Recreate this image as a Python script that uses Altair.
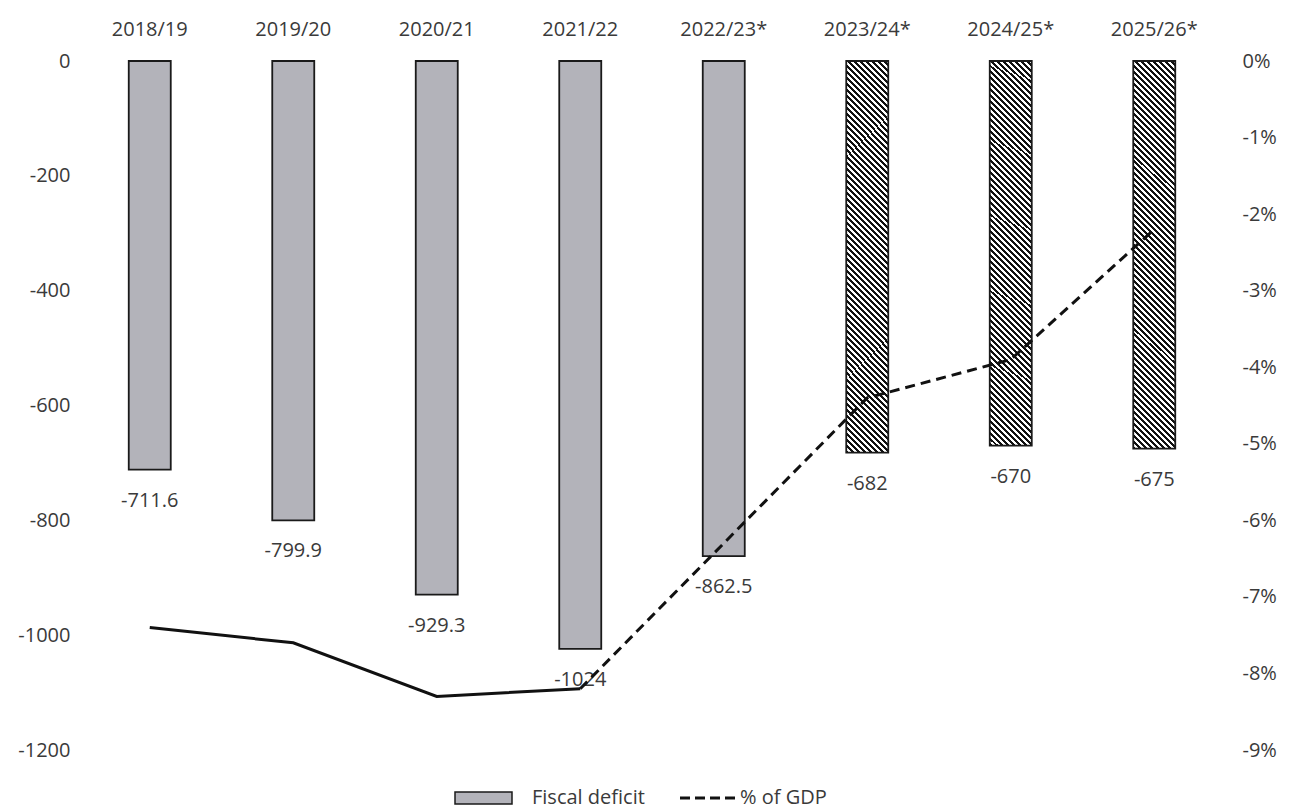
import altair as alt
import pandas as pd

# Fiscal years (asterisk marks estimates / projections)
years = ["2018/19", "2019/20", "2020/21", "2021/22", "2022/23*", "2023/24*", "2024/25*", "2025/26*"]
# Medium-term projection years, drawn with hatched bars
medium_term = ["2023/24*", "2024/25*", "2025/26*"]
# Fiscal deficit (bars, left axis)
deficit = [-711.6, -799.9, -929.3, -1024, -862.5, -682, -670, -675]
# Deficit as share of GDP (line, right axis)
gdp_pct = [-0.074, -0.076, -0.083, -0.082, -0.063, -0.044, -0.039, -0.022]

FONT = "Open Sans"
TXT = "#3a3a3a"
GREY = "#b3b3ba"

W, H = 1148, 689
BAR_W = 42

df = pd.DataFrame({"year": years, "deficit": deficit, "pct": gdp_pct})
df["estimate"] = df["year"].str.contains(r"\*")
df["hatched"] = df["year"].isin(medium_term)
n_actual = int((~df["estimate"]).sum())
plain_df = df[~df["hatched"]]
hatch_df = df[df["hatched"]]
solid_df = df.iloc[:n_actual]
dashed_df = df.iloc[n_actual - 1:]

# Diagonal hatch built from a hard-stop linear gradient (stripes run top-left to bottom-right)
hatch_h = 676 / 1200 * H
k = (BAR_W + hatch_h) / (BAR_W ** 2 + hatch_h ** 2)
period = 6.0
n_stripes = int(round((BAR_W + hatch_h) / period))
stops = []
for i in range(n_stripes):
    a = i / n_stripes
    m = (i + 0.5) / n_stripes
    b = (i + 1) / n_stripes
    stops += [
        {"offset": a, "color": "#111111"},
        {"offset": m, "color": "#111111"},
        {"offset": m, "color": "#ffffff"},
        {"offset": b, "color": "#ffffff"},
    ]
hatch = {
    "gradient": "linear",
    "x1": 0, "y1": 1,
    "x2": k * BAR_W, "y2": 1 - k * hatch_h,
    "stops": stops,
}

x_enc = alt.X(
    "year:N",
    sort=years,
    scale=alt.Scale(paddingInner=0, paddingOuter=0),
    axis=alt.Axis(orient="top", title=None, labelAngle=0, ticks=False, domain=False,
                  labelPadding=22, labelFont=FONT, labelFontSize=20, labelColor=TXT),
)

y_left = alt.Y(
    "deficit:Q",
    scale=alt.Scale(domain=[-1200, 0], nice=False),
    axis=alt.Axis(title=None, grid=False, ticks=False, domain=False, values=list(range(-1200, 1, 200)),
                  labelExpr="(datum.value < 0 ? '-' : '') + format(abs(datum.value), 'd')",
                  labelPadding=8, labelFont=FONT, labelFontSize=20, labelColor=TXT),
)

y_right = alt.Y(
    "pct:Q",
    scale=alt.Scale(domain=[-0.09, 0], nice=False),
    axis=alt.Axis(title=None, orient="right", grid=False, ticks=False, domain=False,
                  values=[-0.09, -0.08, -0.07, -0.06, -0.05, -0.04, -0.03, -0.02, -0.01, 0],
                  labelExpr="(datum.value < -0.0001 ? '-' : '') + format(abs(datum.value), '.0%')",
                  labelPadding=16, labelFont=FONT, labelFontSize=20, labelColor=TXT),
)

bars_plain = alt.Chart(plain_df).mark_bar(
    size=BAR_W, fill=GREY, stroke="#1a1a1a", strokeWidth=1.8
).encode(x=x_enc, y=y_left)

bars_hatch = alt.Chart(hatch_df).mark_bar(
    size=BAR_W, fill=hatch, stroke="#1a1a1a", strokeWidth=1.8
).encode(x=x_enc, y=y_left)

labels = alt.Chart(df).mark_text(
    font=FONT, fontSize=20, color=TXT, dy=31, baseline="middle", align="center"
).transform_calculate(lab="toString(datum.deficit)").encode(
    x=x_enc, y=y_left, text="lab:N",
)

left_layer = alt.layer(bars_plain, bars_hatch, labels)

line_solid = alt.Chart(solid_df).mark_line(color="#111111", strokeWidth=3).encode(x=x_enc, y=y_right)
line_dash = alt.Chart(dashed_df).mark_line(
    color="#111111", strokeWidth=3, strokeDash=[10, 6]
).encode(x=x_enc, y=y_right)

right_layer = alt.layer(line_solid, line_dash)

# Legend drawn below the plot
one = pd.DataFrame({"t": ["Fiscal deficit"]})
two = pd.DataFrame({"t": ["% of GDP"]})
LEG_Y = 737
leg_swatch = alt.Chart(one).mark_rect(fill=GREY, stroke="#1a1a1a", strokeWidth=1.5).encode(
    x=alt.value(377), x2=alt.value(434), y=alt.value(LEG_Y - 6), y2=alt.value(LEG_Y + 6)
)
leg_text1 = alt.Chart(one).mark_text(font=FONT, fontSize=20, color=TXT, align="left", baseline="middle").encode(
    x=alt.value(454), y=alt.value(LEG_Y), text="t:N"
)
leg_line = alt.Chart(two).mark_rule(color="#111111", strokeWidth=3, strokeDash=[10, 5]).encode(
    x=alt.value(602), x2=alt.value(659), y=alt.value(LEG_Y)
)
leg_text2 = alt.Chart(two).mark_text(font=FONT, fontSize=20, color=TXT, align="left", baseline="middle").encode(
    x=alt.value(662), y=alt.value(LEG_Y), text="t:N"
)

chart = alt.layer(
    left_layer, right_layer, leg_swatch, leg_text1, leg_line, leg_text2
).resolve_scale(y="independent").properties(
    width=W, height=H,
    autosize=alt.AutoSizeParams(type="none"),
    padding={"left": 78, "top": 61, "right": 79, "bottom": 60},
    background="#ffffff",
).configure_view(strokeWidth=0)

chart.save("out.html", embed_options={"renderer": "svg", "actions": False})
